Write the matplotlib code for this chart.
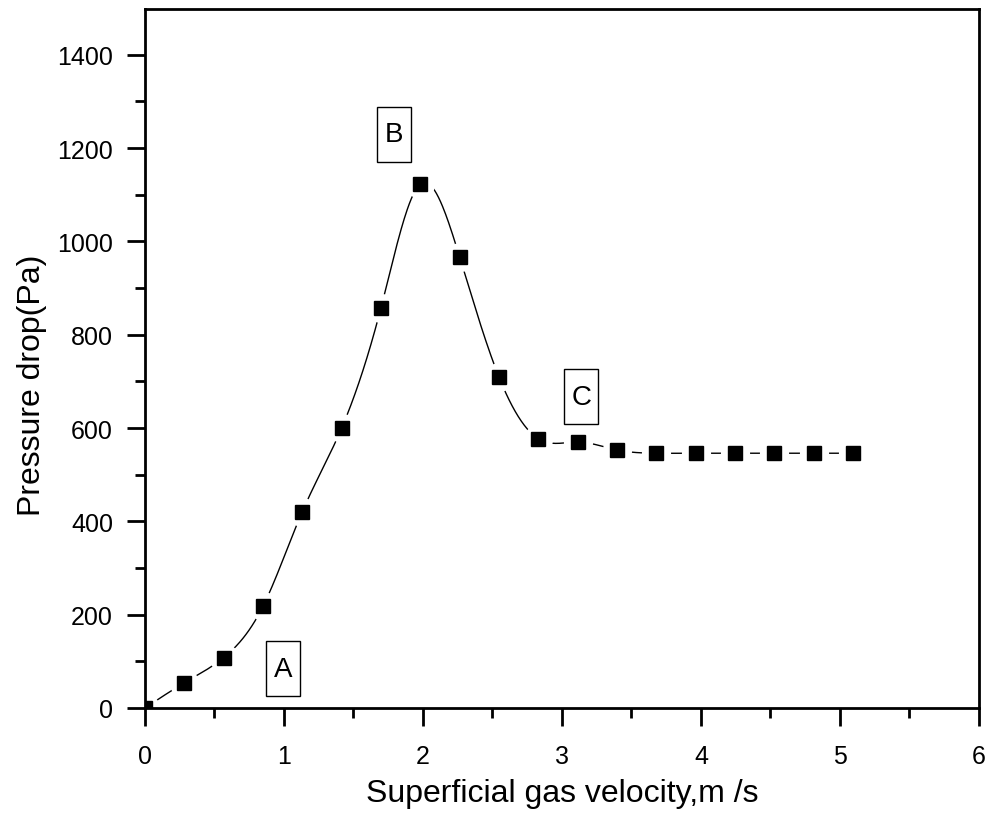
import numpy as np
import matplotlib.pyplot as plt
from matplotlib.path import Path
from matplotlib.ticker import MultipleLocator

# superficial gas velocity (m/s) and pressure drop (Pa)
velocity = [0.0, 0.283, 0.566, 0.849, 1.132, 1.415, 1.698, 1.981, 2.264, 2.547,
            2.830, 3.113, 3.396, 3.679, 3.962, 4.245, 4.528, 4.811, 5.094]
pressure = [0, 54, 108, 218, 421, 600, 858, 1123, 966, 709,
            577, 570, 553, 546, 546, 546, 546, 546, 546]

# region labels
labels = ['A', 'B', 'C']
label_x = [0.996, 1.791, 3.14]
label_y = [84, 1230, 667]

FONT = ['Liberation Sans Narrow', 'Liberation Sans', 'DejaVu Sans']


def natural_spline(x, y, n=40):
    """Natural cubic spline through the points, for the smooth line only."""
    x = np.asarray(x, float)
    y = np.asarray(y, float)
    k = len(x)
    h = np.diff(x)
    A = np.zeros((k, k))
    b = np.zeros(k)
    A[0, 0] = A[-1, -1] = 1
    for i in range(1, k - 1):
        A[i, i - 1] = h[i - 1]
        A[i, i] = 2 * (h[i - 1] + h[i])
        A[i, i + 1] = h[i]
        b[i] = 3 * ((y[i + 1] - y[i]) / h[i] - (y[i] - y[i - 1]) / h[i - 1])
    c = np.linalg.solve(A, b)
    xs, ys = [], []
    for i in range(k - 1):
        t = np.linspace(0, h[i], n)
        bi = (y[i + 1] - y[i]) / h[i] - h[i] * (2 * c[i] + c[i + 1]) / 3
        di = (c[i + 1] - c[i]) / (3 * h[i])
        xs.append(x[i] + t)
        ys.append(y[i] + bi * t + c[i] * t ** 2 + di * t ** 3)
    return np.concatenate(xs), np.concatenate(ys)


def tall_box(x0, y0, width, height, mutation_size):
    # fixed narrow, tall frame (pixels) centred on the letter
    cx, cy = x0 + width / 2, y0 + height / 2
    w, h = 34, 55
    return Path.unit_rectangle().transformed(
        plt.matplotlib.transforms.Affine2D().scale(w, h).translate(cx - w / 2, cy - h / 2))


fig = plt.figure(figsize=(9.87, 8.2), dpi=100)
ax = fig.add_axes([145 / 987, 1 - 709 / 820, 834 / 987, 699 / 820])

sx, sy = natural_spline(velocity, pressure)
ax.plot(sx, sy, color='k', linewidth=1.0, zorder=2)
# white halo behind the markers leaves a gap in the line (Origin style)
ax.plot(velocity, pressure, linestyle='none', marker='o', markersize=21,
        markeredgewidth=0, color='white', zorder=2.2)
ax.plot(velocity, pressure, linestyle='none', marker='s', markersize=9.5,
        color='k', zorder=4)

for lab, lx, ly in zip(labels, label_x, label_y):
    ax.text(lx, ly, lab, fontsize=20, family=FONT, ha='center', va='center',
            bbox=dict(boxstyle=tall_box, fc='white', ec='k', lw=1.0),
            zorder=5)

ax.set_xlim(0, 6)
ax.set_ylim(0, 1498)
ax.xaxis.set_major_locator(MultipleLocator(1))
ax.xaxis.set_minor_locator(MultipleLocator(0.5))
ax.yaxis.set_major_locator(MultipleLocator(200))
ax.yaxis.set_minor_locator(MultipleLocator(100))
ax.tick_params(which='both', direction='out', width=2.0, top=False, right=False,
               labelsize=18)
ax.tick_params(axis='x', pad=13)
ax.tick_params(axis='y', pad=10)
ax.tick_params(which='major', length=13)
ax.tick_params(which='minor', length=7)
for lab in ax.get_xticklabels() + ax.get_yticklabels():
    lab.set_family(FONT)
for sp in ax.spines.values():
    sp.set_linewidth(2.0)

ax.set_xlabel('Superficial gas velocity,m /s', fontsize=23, family=FONT)
ax.set_ylabel('Pressure drop(Pa)', fontsize=23, family=FONT)
ax.xaxis.set_label_coords(0.5, -0.100)
ax.yaxis.set_label_coords(-0.118, 0.463)

fig.savefig('out.png', dpi=100)
